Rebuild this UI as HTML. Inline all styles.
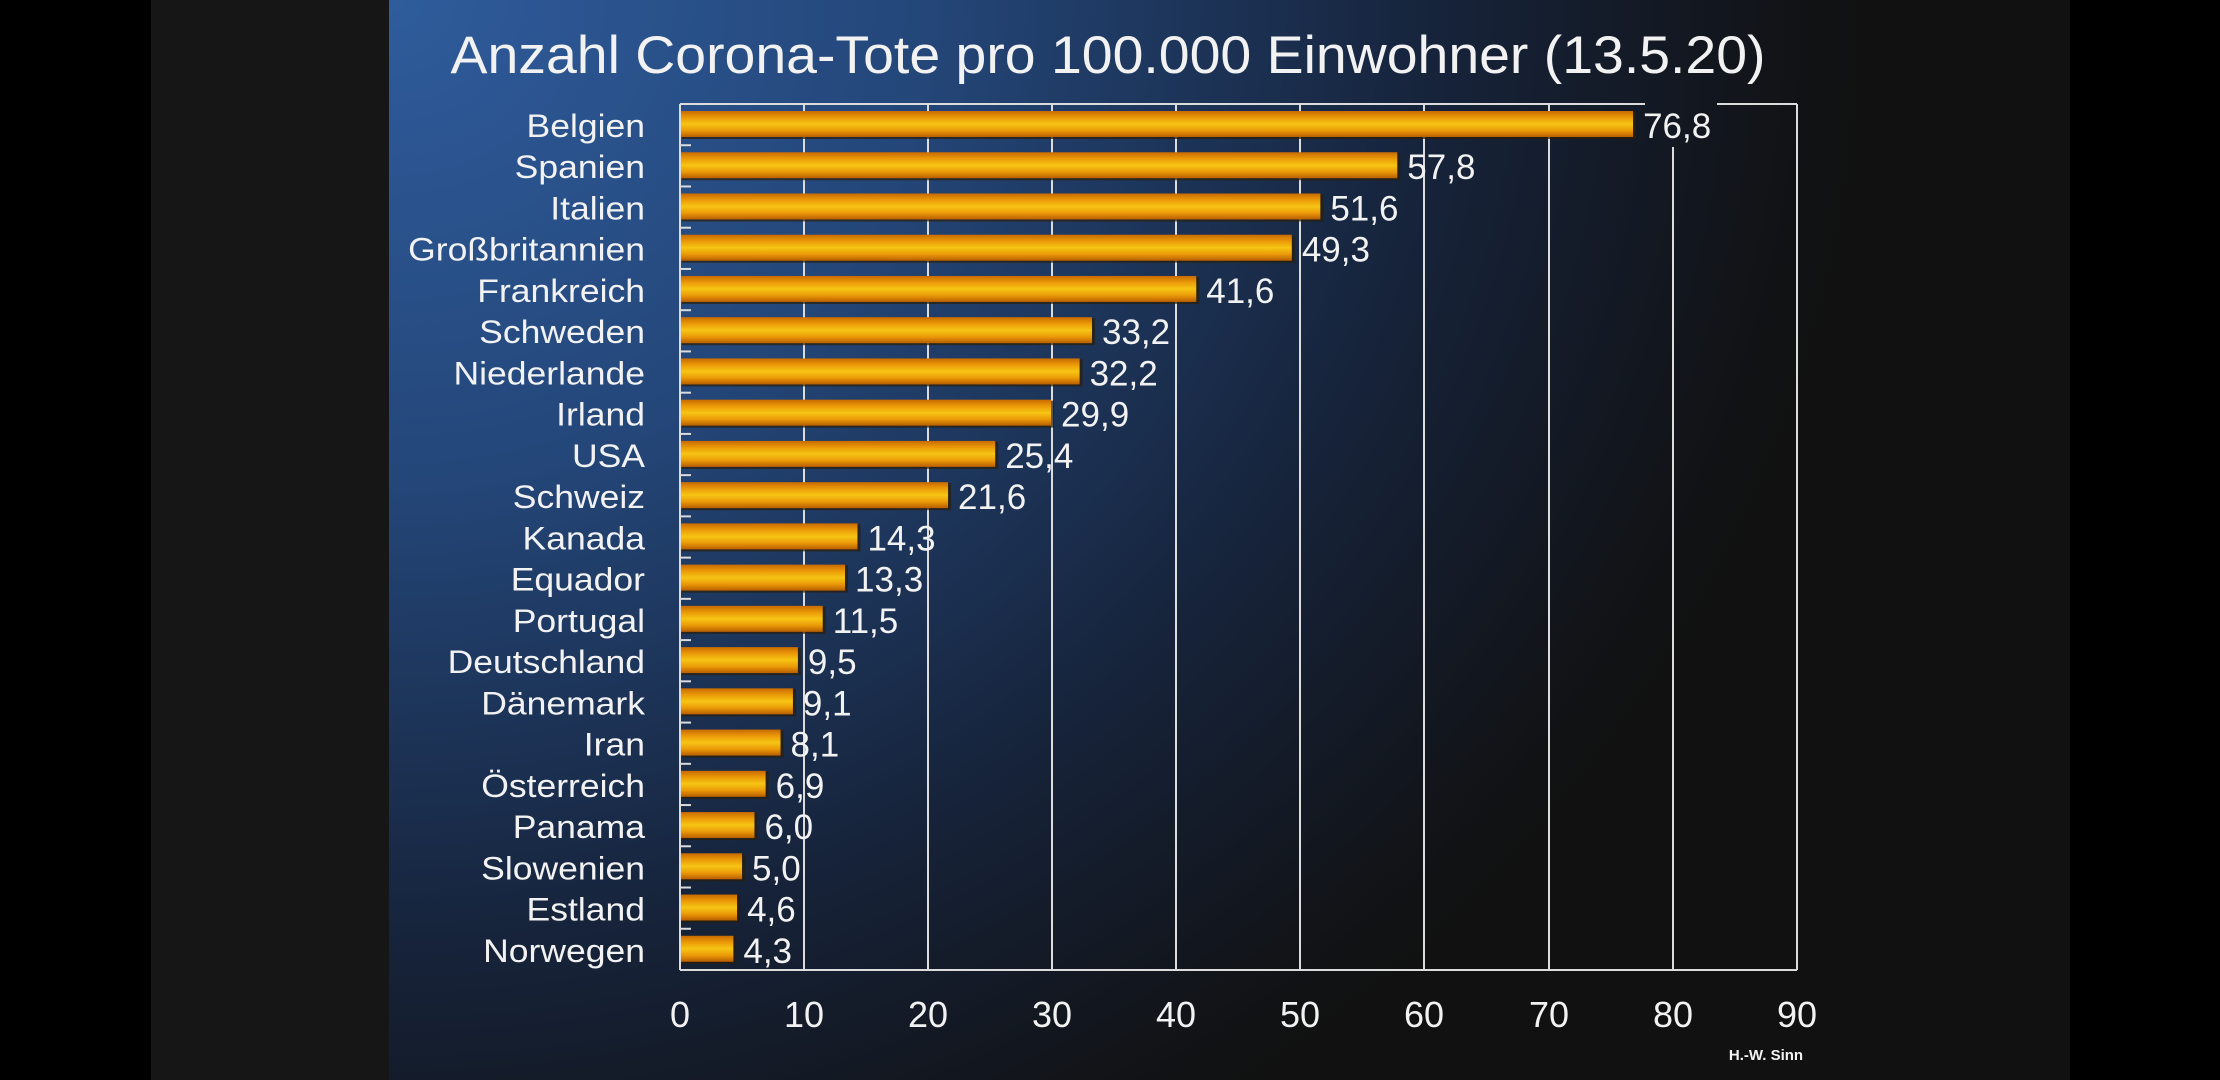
<!DOCTYPE html>
<html><head><meta charset="utf-8"><style>
html,body{margin:0;padding:0;background:#000;}
svg{display:block;}
text{font-family:"Liberation Sans",Arial,sans-serif;fill:#f2f2f2;}
</style></head><body>
<svg width="2220" height="1080" viewBox="0 0 2220 1080" xmlns="http://www.w3.org/2000/svg">
<defs>
<radialGradient id="bg" cx="390" cy="0" r="1500" gradientUnits="userSpaceOnUse" gradientTransform="translate(390 0) scale(1 0.9) translate(-390 0)">
<stop offset="0" stop-color="#2f5c9c"/>
<stop offset="0.35" stop-color="#24477a"/>
<stop offset="0.7" stop-color="#16233a"/>
<stop offset="0.95" stop-color="#111214"/>
<stop offset="1" stop-color="#111"/>
</radialGradient>
<linearGradient id="bar" x1="0" y1="0" x2="0" y2="1">
<stop offset="0" stop-color="#c86a00"/>
<stop offset="0.25" stop-color="#eb9a08"/>
<stop offset="0.5" stop-color="#f6c514"/>
<stop offset="0.75" stop-color="#eb9a08"/>
<stop offset="1" stop-color="#b85e00"/>
</linearGradient>
</defs>
<rect x="0" y="0" width="2220" height="1080" fill="#000"/>
<rect x="151" y="0" width="238" height="1080" fill="#161616"/>
<rect x="389" y="0" width="1681" height="1080" fill="url(#bg)"/>
<text x="1108" y="73" font-size="53" text-anchor="middle" textLength="1315" lengthAdjust="spacingAndGlyphs">Anzahl Corona-Tote pro 100.000 Einwohner (13.5.20)</text>
<g stroke="#dcdcdc" stroke-width="2">
<line x1="804" y1="104" x2="804" y2="970"/>
<line x1="928" y1="104" x2="928" y2="970"/>
<line x1="1052" y1="104" x2="1052" y2="970"/>
<line x1="1176" y1="104" x2="1176" y2="970"/>
<line x1="1300" y1="104" x2="1300" y2="970"/>
<line x1="1424" y1="104" x2="1424" y2="970"/>
<line x1="1549" y1="104" x2="1549" y2="970"/>
<line x1="1673" y1="147" x2="1673" y2="970"/>
<line x1="680" y1="104" x2="1645" y2="104"/>
<line x1="1717" y1="104" x2="1797" y2="104"/>
<line x1="1797" y1="104" x2="1797" y2="970"/>
<line x1="680" y1="970" x2="1797" y2="970"/>
<line x1="680" y1="104" x2="680" y2="970"/>
</g>
<g stroke="#dcdcdc" stroke-width="2" id="ticks"></g>
<g id="rows"></g>
<g font-size="36" text-anchor="middle">
<text x="680" y="1027">0</text><text x="804" y="1027">10</text><text x="928" y="1027">20</text><text x="1052" y="1027">30</text><text x="1176" y="1027">40</text><text x="1300" y="1027">50</text><text x="1424" y="1027">60</text><text x="1549" y="1027">70</text><text x="1673" y="1027">80</text><text x="1797" y="1027">90</text>
</g>
<text x="1766" y="1060" font-size="15" font-weight="bold" text-anchor="middle" fill="#ddd">H.-W. Sinn</text>
<script>
var d=[["Belgien","76,8"],["Spanien","57,8"],["Italien","51,6"],["Großbritannien","49,3"],["Frankreich","41,6"],["Schweden","33,2"],["Niederlande","32,2"],["Irland","29,9"],["USA","25,4"],["Schweiz","21,6"],["Kanada","14,3"],["Equador","13,3"],["Portugal","11,5"],["Deutschland","9,5"],["Dänemark","9,1"],["Iran","8,1"],["Österreich","6,9"],["Panama","6,0"],["Slowenien","5,0"],["Estland","4,6"],["Norwegen","4,3"]];
var ns="http://www.w3.org/2000/svg",g=document.getElementById("rows"),t=document.getElementById("ticks"),h=866/21;
for(var k=1;k<21;k++){var l=document.createElementNS(ns,"line");var y=104+k*h;l.setAttribute("x1",680);l.setAttribute("x2",691);l.setAttribute("y1",y);l.setAttribute("y2",y);t.appendChild(l);}
d.forEach(function(r,i){var c=124+i*h,v=parseFloat(r[1].replace(",",".")),w=v*12.41;
var s=document.createElementNS(ns,"rect");s.setAttribute("x",682);s.setAttribute("y",c-12);s.setAttribute("width",w+1);s.setAttribute("height",27);s.setAttribute("fill","#2a1e08");s.setAttribute("opacity","0.7");g.appendChild(s);
var b=document.createElementNS(ns,"rect");b.setAttribute("x",681);b.setAttribute("y",c-13);b.setAttribute("width",w-1);b.setAttribute("height",26);b.setAttribute("fill","url(#bar)");g.appendChild(b);
var n=document.createElementNS(ns,"text");n.setAttribute("transform","translate(645,"+(c+13)+") scale(1.11,1)");n.setAttribute("font-size","32");n.setAttribute("text-anchor","end");n.textContent=r[0];g.appendChild(n);
var e=document.createElementNS(ns,"text");e.setAttribute("x",680+w+10);e.setAttribute("y",c+14);e.setAttribute("font-size","35");e.textContent=r[1];g.appendChild(e);});
</script>
</svg>
</body></html>
